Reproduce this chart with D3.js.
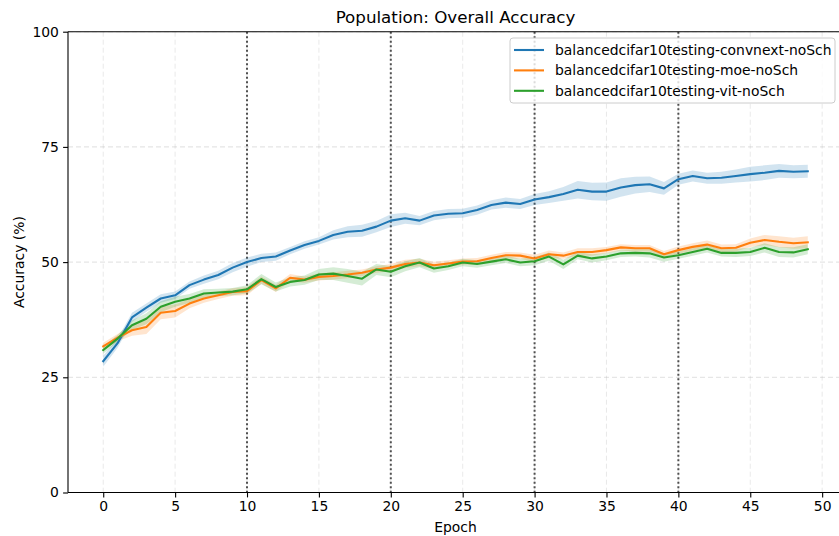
<!DOCTYPE html>
<html>
<head>
<meta charset="utf-8">
<script src="https://cdn.jsdelivr.net/npm/d3@7"></script>
<style>
  html, body { margin: 0; padding: 0; background: #fff; }
  svg { display: block; font-family: "DejaVu Sans", sans-serif; }
</style>
</head>
<body>
<svg id="chart" width="839" height="536"></svg>
<script>
// Per-epoch mean accuracy (%) and spread for each run
const epochs = d3.range(0, 50);

const seriesNames = [
  "balancedcifar10testing-convnext-noSch",
  "balancedcifar10testing-moe-noSch",
  "balancedcifar10testing-vit-noSch"
];

const convnextMean = [28.5,32.4,38.0,40.1,42.1,42.8,45.0,46.2,47.2,48.8,
  50.0,50.9,51.2,52.5,53.7,54.6,55.9,56.6,56.8,57.7,
  59.0,59.5,59.0,60.1,60.5,60.6,61.3,62.4,62.9,62.6,
  63.6,64.1,64.8,65.7,65.3,65.3,66.2,66.7,66.9,66.0,
  68.0,68.7,68.2,68.3,68.7,69.1,69.4,69.8,69.6,69.7];
const convnextStd = [1.2,1.0,1.0,0.9,0.9,0.8,0.8,0.9,0.9,1.0,
  1.0,0.9,0.9,0.8,0.8,0.8,1.0,1.2,1.3,1.2,
  1.4,1.2,1.0,1.0,1.0,1.0,1.0,1.0,1.1,1.1,
  1.2,1.3,1.5,1.9,1.9,2.0,2.0,1.8,1.7,1.4,
  1.2,1.2,1.2,1.3,1.4,1.6,1.6,1.5,1.4,1.4];

const moeMean = [31.7,33.6,35.2,35.9,39.0,39.4,41.0,42.1,42.8,43.5,
  43.7,46.1,44.3,46.6,46.2,46.8,47.0,47.3,47.7,48.4,
  48.8,49.6,49.9,49.3,49.7,50.1,50.2,50.9,51.5,51.4,
  50.8,51.7,51.4,52.2,52.2,52.6,53.2,53.0,53.0,51.7,
  52.6,53.3,53.8,53.0,53.1,54.2,54.8,54.4,54.1,54.3];
const moeStd = [0.8,0.8,1.2,1.5,1.4,1.4,1.0,0.9,0.8,0.8,
  0.9,0.8,0.8,0.8,0.7,0.8,0.8,0.8,0.7,0.7,
  0.8,0.9,0.8,0.8,0.7,0.7,0.7,0.7,0.7,0.7,
  0.8,0.8,0.7,0.8,0.8,0.7,0.7,0.7,0.7,0.7,
  0.8,0.8,0.9,0.8,0.8,0.9,1.1,1.2,1.2,1.3];

const vitMean = [30.9,33.4,36.3,37.7,40.3,41.4,42.1,43.2,43.4,43.6,
  44.1,46.3,44.6,45.7,46.1,47.3,47.5,47.0,46.4,48.4,
  47.9,49.1,49.9,48.6,49.1,49.9,49.6,50.1,50.6,49.9,
  50.2,51.2,49.5,51.4,50.8,51.2,51.9,52.0,51.9,51.0,
  51.5,52.2,52.9,52.0,52.0,52.2,53.1,52.2,52.1,52.8];
const vitStd = [0.8,0.8,1.0,1.2,1.2,1.1,1.0,0.9,0.8,0.8,
  0.9,1.1,1.0,1.0,1.0,1.2,1.4,1.5,1.5,1.2,
  1.2,1.1,1.0,0.9,0.8,0.8,0.8,0.8,0.8,0.8,
  0.9,0.9,1.0,0.8,0.9,0.8,0.8,0.8,0.9,0.9,
  0.8,0.8,0.8,0.8,0.9,0.9,1.0,1.1,1.1,1.1];

const seriesColors = ["#1f77b4", "#ff7f0e", "#2ca02c"];
const xTicks = [0,5,10,15,20,25,30,35,40,45,50];
const yTicks = [0,25,50,75,100];
const markerEpochs = [10,20,30,40];

const series = [
  { name: seriesNames[0], mean: convnextMean, std: convnextStd, color: seriesColors[0] },
  { name: seriesNames[1], mean: moeMean,      std: moeStd,      color: seriesColors[1] },
  { name: seriesNames[2], mean: vitMean,      std: vitStd,      color: seriesColors[2] }
];

const svg = d3.select("#chart");
const plot = { left: 68, right: 843, top: 31.7, bottom: 492.5 };

const x = d3.scaleLinear().domain([-2.45, 51.45]).range([plot.left, plot.right]);
const y = d3.scaleLinear().domain([0, 100]).range([plot.bottom, plot.top]);

svg.append("defs").append("clipPath").attr("id", "plotClip")
  .append("rect")
  .attr("x", plot.left).attr("y", plot.top)
  .attr("width", plot.right - plot.left).attr("height", plot.bottom - plot.top);

// grid
const grid = svg.append("g").attr("clip-path", "url(#plotClip)");
grid.selectAll(".gx").data(xTicks).join("line")
  .attr("x1", d => x(d)).attr("x2", d => x(d))
  .attr("y1", plot.top).attr("y2", plot.bottom)
  .attr("stroke", "#b0b0b0").attr("stroke-opacity", 0.35)
  .attr("stroke-width", 0.8).attr("stroke-dasharray", "5,3");
grid.selectAll(".gy").data(yTicks).join("line")
  .attr("x1", plot.left).attr("x2", plot.right)
  .attr("y1", d => y(d)).attr("y2", d => y(d))
  .attr("stroke", "#b0b0b0").attr("stroke-opacity", 0.5)
  .attr("stroke-width", 0.8).attr("stroke-dasharray", "5,3");

// schedule markers
grid.selectAll(".mk").data(markerEpochs).join("line")
  .attr("x1", d => x(d)).attr("x2", d => x(d))
  .attr("y1", plot.top).attr("y2", plot.bottom)
  .attr("stroke", "#333").attr("stroke-opacity", 0.85).attr("stroke-width", 2)
  .attr("stroke-dasharray", "2,2.5");

// bands and lines
const marks = svg.append("g").attr("clip-path", "url(#plotClip)");
const area = d3.area()
  .x((d, i) => x(epochs[i]))
  .y0(d => y(d[0] - d[1]))
  .y1(d => y(d[0] + d[1]));
const line = d3.line()
  .x((d, i) => x(epochs[i]))
  .y(d => y(d));

series.forEach(s => {
  marks.append("path")
    .datum(s.mean.map((m, i) => [m, s.std[i]]))
    .attr("d", area)
    .attr("fill", s.color).attr("fill-opacity", 0.2).attr("stroke", "none");
});
series.forEach(s => {
  marks.append("path")
    .datum(s.mean)
    .attr("d", line)
    .attr("fill", "none").attr("stroke", s.color)
    .attr("stroke-width", 2.1).attr("stroke-linejoin", "round").attr("stroke-linecap", "square");
});

// axes
const xAxis = svg.append("g").attr("transform", `translate(0,${plot.bottom})`)
  .call(d3.axisBottom(x).tickValues(xTicks).tickSize(4.9).tickPadding(4.2));
const yAxis = svg.append("g").attr("transform", `translate(${plot.left},0)`)
  .call(d3.axisLeft(y).tickValues(yTicks).tickSize(4.9).tickPadding(4.2));
[xAxis, yAxis].forEach(a => {
  a.select(".domain").remove();
  a.selectAll("line").attr("stroke", "#000").attr("stroke-width", 1.1);
  a.selectAll("text").attr("fill", "#000").style("font-size", "13.9px")
    .style("font-family", "DejaVu Sans, sans-serif");
});

// spines
const spines = svg.append("g").attr("stroke", "#000").attr("stroke-width", 1.1).attr("fill", "none");
spines.append("line").attr("x1", plot.left).attr("x2", plot.left).attr("y1", plot.top).attr("y2", plot.bottom);
spines.append("line").attr("x1", plot.left).attr("x2", plot.right).attr("y1", plot.bottom).attr("y2", plot.bottom);
spines.append("line").attr("x1", plot.left).attr("x2", plot.right).attr("y1", plot.top).attr("y2", plot.top);
spines.append("line").attr("x1", plot.right).attr("x2", plot.right).attr("y1", plot.top).attr("y2", plot.bottom);

// titles
svg.append("text")
  .attr("x", (plot.left + plot.right) / 2).attr("y", 23)
  .attr("text-anchor", "middle").style("font-size", "16.7px").attr("fill", "#000")
  .text("Population: Overall Accuracy");
svg.append("text")
  .attr("x", (plot.left + plot.right) / 2).attr("y", 532)
  .attr("text-anchor", "middle").style("font-size", "13.9px").attr("fill", "#000")
  .text("Epoch");
svg.append("text")
  .attr("transform", `translate(24,${(plot.top + plot.bottom) / 2}) rotate(-90)`)
  .attr("text-anchor", "middle").style("font-size", "13.9px").attr("fill", "#000")
  .text("Accuracy (%)");

// legend
const legend = svg.append("g");
legend.append("rect")
  .attr("x", 510).attr("y", 38).attr("width", 325).attr("height", 65)
  .attr("rx", 3).attr("ry", 3)
  .attr("fill", "#fff").attr("fill-opacity", 0.8)
  .attr("stroke", "#cccccc").attr("stroke-width", 1);
series.forEach((s, i) => {
  const cy = 50 + i * 20.4;
  legend.append("line")
    .attr("x1", 514).attr("x2", 544).attr("y1", cy).attr("y2", cy)
    .attr("stroke", s.color).attr("stroke-width", 2.1);
  legend.append("text")
    .attr("x", 555).attr("y", cy + 5)
    .style("font-size", "13.9px").attr("fill", "#000")
    .text(s.name);
});
</script>
</body>
</html>
